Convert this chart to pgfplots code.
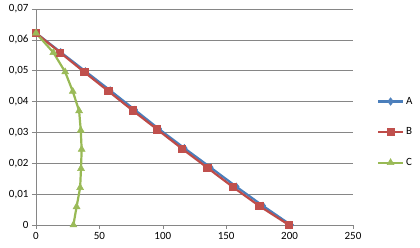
\documentclass[border=0pt]{standalone}
\usepackage{pgfplots}
\pgfplotsset{compat=1.18}
\usepackage{fontspec}
\setmainfont{Carlito}
\definecolor{cA}{HTML}{4A7EBB}
\definecolor{cAm}{HTML}{4F81BD}
\definecolor{cB}{HTML}{BE4B48}
\definecolor{cBm}{HTML}{C0504D}
\definecolor{cC}{HTML}{98B954}
\definecolor{cCm}{HTML}{9BBB59}
\definecolor{gridc}{HTML}{868686}
\begin{document}
\begin{tikzpicture}
\begin{axis}[
  at={(0,0)}, anchor=south west,
  scale only axis, width=317pt, height=216pt,
  xmin=0, xmax=250, ymin=0, ymax=0.07,
  scaled y ticks=false, scaled x ticks=false,
  axis lines=left, axis line style={-, gridc},
  xtick={0,50,100,150,200,250},
  xticklabels={0,50,100,150,200,250},
  ytick={0,0.01,0.02,0.03,0.04,0.05,0.06,0.07},
  yticklabels={0,{0,01},{0,02},{0,03},{0,04},{0,05},{0,06},{0,07}},
  ymajorgrids, grid style={gridc, line width=0.6pt},
  tick style={gridc, line width=0.6pt},
  tick align=outside, major tick length=4pt,
  ticklabel style={font=\fontsize{11}{13}\selectfont, text=black},
  legend style={at={(1.075,0.43)}, anchor=west, draw=none, fill=none,
    font=\fontsize{11}{13}\selectfont, row sep=18pt, inner sep=0pt},
  legend cell align=left,
  legend image code/.code={\draw[mark repeat=2,mark phase=2] plot coordinates {(0pt,0pt)(12.5pt,0pt)(25pt,0pt)};},
]
\addplot[cA, line width=2.2pt, mark=diamond*, mark size=3.8pt, mark options={fill=cAm, draw=cAm, line width=0.5pt}] coordinates {
(0,0.0622)(19.5,0.0560)(39,0.0498)(58.5,0.0436)(78,0.0373)(97,0.0311)(117,0.0249)(137.5,0.0187)(158,0.0124)(179,0.0062)(201,0)};
\addlegendentry{A}
\addplot[cB, line width=2.2pt, mark=square*, mark size=3.6pt, mark options={fill=cBm, draw=cBm, line width=0.5pt}] coordinates {
(0,0.0622)(19,0.0559)(38,0.0496)(57,0.0434)(76,0.0372)(95.5,0.0310)(115,0.0248)(135,0.0186)(155,0.0124)(176,0.0062)(199.5,0)};
\addlegendentry{B}
\addplot[cC, line width=2.2pt, mark=triangle*, mark size=4pt, mark options={fill=cCm, draw=cCm, line width=0.5pt}] coordinates {
(0,0.0622)(13.7,0.0559)(23,0.0496)(29,0.0433)(34,0.0370)(35.3,0.0307)(36,0.0245)(35.5,0.0183)(34.8,0.0121)(32,0.0059)(29.5,0)};
\addlegendentry{C}
\end{axis}
\pgfresetboundingbox
\path[use as bounding box] (-36pt,-23pt) rectangle (384pt,225pt);
\end{tikzpicture}
\end{document}
